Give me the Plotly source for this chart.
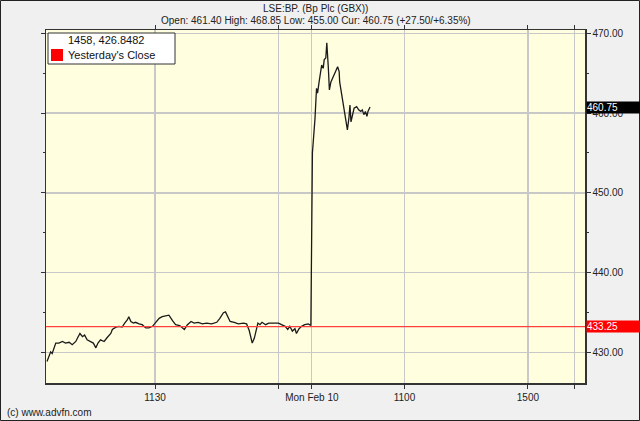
import plotly.graph_objects as go

# Friday session: minutes from 08:00 (trading-minute scale), price
fri_min = [0, 4, 7, 10, 14, 17, 23, 30, 36, 43, 49, 56, 59, 64, 69, 73, 78, 85, 90, 95,
           99, 104, 111, 117, 124, 127, 134, 140, 146, 151, 156, 159, 163, 168, 172, 179,
           185, 192, 198, 205, 211, 218, 224, 231, 237, 244, 250, 258, 267, 273, 280, 286,
           294, 302, 310, 320, 330, 336, 343, 347, 351, 356, 364, 372, 382, 388, 393, 396,
           399, 403, 406, 410, 414, 418, 425, 431, 440, 450, 456, 463, 468, 472, 477, 482,
           485, 490, 495, 501, 508, 513]
fri_px = [428.9, 429.7, 430.1, 429.9, 430.7, 431.2, 431.2, 431.4, 431.2, 431.3, 431.0, 431.4,
          431.8, 432.4, 432.0, 432.2, 431.6, 431.4, 431.2, 430.6, 431.2, 431.6, 431.4, 431.9,
          432.4, 432.9, 433.2, 433.3, 433.2, 433.7, 434.1, 434.5, 433.9, 433.7, 433.8, 433.6,
          433.5, 433.1, 433.1, 433.3, 433.7, 434.3, 434.5, 434.6, 434.7, 434.0, 433.5, 433.4,
          432.9, 433.5, 433.9, 433.7, 433.8, 433.6, 433.7, 433.6, 433.8, 434.3, 435.0, 435.1,
          434.5, 433.9, 433.8, 433.6, 433.7, 433.6, 432.8, 431.8, 431.2, 431.8, 432.6, 433.7,
          433.5, 433.8, 433.5, 433.7, 433.7, 433.7, 433.5, 433.3, 432.9, 433.3, 432.7, 433.0,
          432.4, 433.0, 433.3, 433.5, 433.6, 433.4]

# Monday session (Mon Feb 10 08:00 = 515)
mon_min = [516, 518, 521, 524, 526, 529, 533, 534, 537, 539, 542, 544, 547, 549, 552, 556,
           561, 565, 568, 569, 573, 576, 579, 582, 584, 587, 589, 591, 593, 597, 602, 606,
           610, 613, 616, 619, 622, 624, 628]
mon_px = [455.0, 456.6, 459.3, 463.1, 462.5, 463.9, 465.2, 466.0, 465.6, 466.7, 466.9, 468.8,
          465.6, 462.9, 463.9, 464.4, 465.2, 465.8, 465.2, 463.9, 462.3, 461.0, 460.2, 458.9,
          457.9, 459.4, 461.0, 458.9, 459.6, 460.6, 460.8, 460.4, 460.2, 460.4, 459.8, 460.2,
          459.6, 460.2, 460.75]

x_tickvals = [210, 450, 515, 695, 935, 1025]
x_ticktext = ["1130", "", "Mon Feb 10", "1100", "1500", ""]
y_tickvals = [430, 440, 450, 460, 470]
prev_close = 433.25
current = 460.75

xs = fri_min + mon_min
ys = fri_px + mon_px

fig = go.Figure()
fig.add_trace(go.Scatter(x=xs, y=ys, mode="lines",
                         line=dict(color="#1a1a1a", width=1.3), showlegend=False,
                         hoverinfo="skip"))

fig.add_shape(type="line", xref="paper", x0=0, x1=1, yref="y", y0=prev_close, y1=prev_close,
              line=dict(color="#ff4040", width=1.2))

font = "Liberation Sans, Arial, sans-serif"
fig.update_layout(
    width=640, height=421,
    margin=dict(l=46, r=55, t=30, b=38),
    paper_bgcolor="#f0f0f0",
    plot_bgcolor="#ffffe0",
    font=dict(family=font, size=10, color="#222"),
    showlegend=False,
    xaxis=dict(range=[-2, 1046], tickmode="array", tickvals=x_tickvals, ticktext=x_ticktext,
               showgrid=True, gridcolor="#c8c8c8", gridwidth=1.2,
               ticks="outside", ticklen=4, tickcolor="#333",
               showline=True, linecolor="#333", linewidth=1.5, mirror="ticks",
               zeroline=False, tickfont=dict(size=10, color="#222")),
    yaxis=dict(range=[426.2, 470.4], side="right", tickmode="array", tickvals=y_tickvals,
               tickformat=".2f", showgrid=True, gridcolor="#c8c8c8", gridwidth=1.2,
               ticks="outside", ticklen=4, tickcolor="#333",
               minor=dict(dtick=5, ticks="outside", ticklen=2, tickcolor="#333", showgrid=False),
               showline=True, linecolor="#333", linewidth=1.5, mirror="ticks",
               zeroline=False, tickfont=dict(size=10, color="#222")),
)

annotations = [
    dict(text="LSE:BP. (Bp Plc (GBX))", xref="paper", yref="paper", x=0.5, y=1,
         yshift=22, xanchor="center", yanchor="middle", showarrow=False,
         font=dict(size=10, color="#222"), xshift=0),
    dict(text="Open: 461.40 High: 468.85 Low: 455.00 Cur: 460.75 (+27.50/+6.35%)",
         xref="paper", yref="paper", x=0.5, y=1, yshift=10, xanchor="center",
         yanchor="middle", showarrow=False, font=dict(size=10, color="#222")),
    dict(text=f"{current:.2f}", xref="paper", yref="y", x=1, y=current, xanchor="left",
         yanchor="middle", xshift=1, showarrow=False, bgcolor="#000000", width=54,
         height=11, align="left", borderpad=0, font=dict(size=10, color="#ffffff")),
    dict(text=f"{prev_close:.2f}", xref="paper", yref="y", x=1, y=prev_close, xanchor="left",
         yanchor="middle", xshift=1, showarrow=False, bgcolor="#ff0000", width=54,
         height=11, align="left", borderpad=0, font=dict(size=10, color="#ffffff")),
    dict(text="1458, 426.8482", xref="paper", yref="paper", x=0, y=1, xshift=20,
         yshift=-10, xanchor="left", yanchor="middle", showarrow=False,
         font=dict(size=11, color="#111")),
    dict(text="Yesterday's Close", xref="paper", yref="paper", x=0, y=1, xshift=20,
         yshift=-25, xanchor="left", yanchor="middle", showarrow=False,
         font=dict(size=11, color="#111")),
    dict(text="(c) www.advfn.com", xref="paper", yref="paper", x=0, y=0, xshift=-41,
         yshift=-29, xanchor="left", yanchor="middle", showarrow=False,
         font=dict(size=10, color="#222")),
]
fig.update_layout(annotations=annotations)

# legend box and red swatch (pixel-based paper coordinates)
pw, ph = 539.0, 353.0
def px_x(p):
    return (p - 46) / pw
def px_y(p):
    return (383 - p) / ph

fig.add_shape(type="rect", xref="paper", yref="paper", x0=px_x(48), x1=px_x(175),
              y0=px_y(64), y1=px_y(33), fillcolor="#ffffff", line=dict(color="#333", width=1),
              layer="above")
fig.add_shape(type="rect", xref="paper", yref="paper", x0=px_x(51), x1=px_x(63),
              y0=px_y(61), y1=px_y(49), fillcolor="#ff0000", line=dict(width=0),
              layer="above")
# outer image border
fig.add_shape(type="rect", xref="paper", yref="paper", x0=px_x(0.5), x1=px_x(639.5),
              y0=px_y(420.5), y1=px_y(0.5), line=dict(color="#222", width=1),
              fillcolor="rgba(0,0,0,0)", layer="above")

fig.write_html("out.html",
               config={"displayModeBar": False, "staticPlot": True},
               post_script="document.body.style.margin='0';document.body.style.overflow='hidden';"
                           "document.body.style.background='#f0f0f0';")
